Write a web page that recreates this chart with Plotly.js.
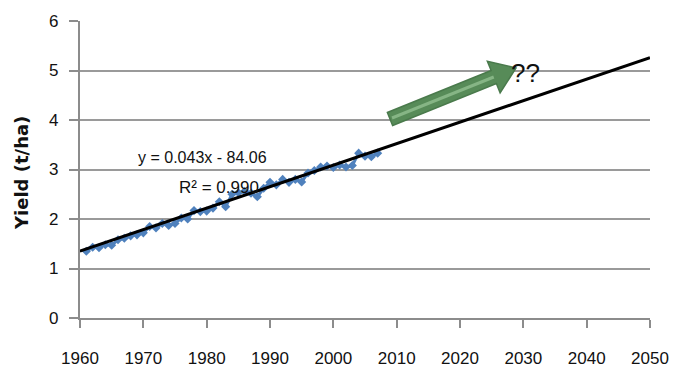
<!DOCTYPE html>
<html>
<head>
<meta charset="utf-8">
<script src="https://cdn.plot.ly/plotly-3.0.1.min.js"></script>
<style>html,body{margin:0;padding:0;background:#fff;}#chart{width:676px;height:374px;}</style>
</head>
<body>
<div id="chart"></div>
<script>
// Observed yields (t/ha)
const years = [1961,1962,1963,1964,1965,1966,1967,1968,1969,1970,1971,1972,1973,1974,1975,1976,1977,1978,1979,1980,1981,1982,1983,1984,1985,1986,1987,1988,1989,1990,1991,1992,1993,1994,1995,1996,1997,1998,1999,2000,2001,2002,2003,2004,2005,2006,2007];
const yields = [1.35,1.43,1.42,1.48,1.47,1.58,1.61,1.66,1.68,1.72,1.85,1.82,1.91,1.87,1.91,2.02,2.00,2.17,2.15,2.16,2.22,2.35,2.25,2.50,2.53,2.56,2.52,2.45,2.62,2.74,2.69,2.80,2.74,2.80,2.75,2.93,2.98,3.05,3.07,3.04,3.09,3.05,3.08,3.33,3.27,3.26,3.33];
// Linear trend line endpoints
const trendYears = [1960, 2050];
const trendValues = [1.35, 5.26];
const xTicks = [1960,1970,1980,1990,2000,2010,2020,2030,2040,2050];
const yTicks = [0,1,2,3,4,5,6];
const eqText = "y = 0.043x - 84.06";
const r2Text = "R\u00b2 = 0.990";
const yTitle = "Yield (t/ha)";

const W = 676, H = 374;
const M = {l: 80, r: 26, t: 21, b: 56};
const xr = [1960, 2050], yr = [0, 6];
const pw = W - M.l - M.r, ph = H - M.t - M.b;
function px2x(px){ return xr[0] + (px - M.l) / pw * (xr[1]-xr[0]); }
function py2y(py){ return yr[0] + (M.t + ph - py) / ph * (yr[1]-yr[0]); }

// Arrow geometry in pixel space (decoration)
const tail = [390, 119], tip = [516, 68];
const dx = tip[0]-tail[0], dy = tip[1]-tail[1];
const L = Math.hypot(dx, dy);
const u = [dx/L, dy/L], n = [-u[1], u[0]];
const sw = 7, hw = 17, hl = 24;
const base = [tip[0]-u[0]*hl, tip[1]-u[1]*hl];
const pts = [
  [tail[0]+n[0]*sw, tail[1]+n[1]*sw],
  [base[0]+n[0]*sw, base[1]+n[1]*sw],
  [base[0]+n[0]*hw, base[1]+n[1]*hw],
  tip,
  [base[0]-n[0]*hw, base[1]-n[1]*hw],
  [base[0]-n[0]*sw, base[1]-n[1]*sw],
  [tail[0]-n[0]*sw, tail[1]-n[1]*sw]
];
const path = 'M' + pts.map(p => px2x(p[0]).toFixed(4) + ',' + py2y(p[1]).toFixed(4)).join(' L') + ' Z';
const stripe = 'M' + px2x(tail[0]+2).toFixed(4) + ',' + py2y(tail[1]-1).toFixed(4) + ' L' + px2x(base[0]).toFixed(4) + ',' + py2y(base[1]).toFixed(4);

const traces = [
  {x: years, y: yields, type: 'scatter', mode: 'lines+markers',
   line: {color: '#4F81BD', width: 3}, marker: {color: '#4F81BD', size: 7, symbol: 'diamond'},
   hoverinfo: 'skip', showlegend: false},
  {x: trendYears, y: trendValues, type: 'scatter', mode: 'lines',
   line: {color: '#000', width: 3}, hoverinfo: 'skip', showlegend: false}
];

const tickFont = {family: 'Liberation Sans, Arial, sans-serif', size: 17, color: '#111'};
const textFont = {family: 'Liberation Sans, Arial, sans-serif', size: 16, color: '#111'};

const yTickLabels = yTicks.map(v => ({
  text: String(v), xref: 'paper', yref: 'y', x: 0, y: v, xanchor: 'right', yanchor: 'middle',
  xshift: -20, showarrow: false, font: tickFont
}));

const layout = {
  width: W, height: H,
  margin: M,
  paper_bgcolor: '#fff', plot_bgcolor: '#fff',
  showlegend: false,
  xaxis: {range: xr, tickvals: xTicks, ticktext: xTicks.map(String), showgrid: false, zeroline: false,
          showline: true, linecolor: '#8c8c8c', linewidth: 2,
          ticks: 'outside', ticklen: 8, tickwidth: 2, tickcolor: '#8c8c8c',
          tickfont: tickFont, ticklabelstandoff: 16, fixedrange: true},
  yaxis: {range: yr, tickvals: yTicks, showticklabels: false,
          showgrid: true, gridcolor: '#9a9a9a', gridwidth: 2, zeroline: false,
          showline: true, linecolor: '#8c8c8c', linewidth: 2,
          ticks: 'outside', ticklen: 9, tickwidth: 2, tickcolor: '#8c8c8c',
          fixedrange: true},
  shapes: [
    {type: 'path', xref: 'x', yref: 'y', path: path, fillcolor: '#578b58', line: {color: '#4a7a4c', width: 1.5}},
    {type: 'path', xref: 'x', yref: 'y', path: stripe, line: {color: '#86b585', width: 3}}
  ],
  annotations: yTickLabels.concat([
    {text: eqText, x: px2x(202), y: py2y(157), xref: 'x', yref: 'y', showarrow: false, font: textFont},
    {text: r2Text, x: px2x(219), y: py2y(187), xref: 'x', yref: 'y', showarrow: false,
     font: {family: 'Liberation Sans, Arial, sans-serif', size: 17, color: '#111'}},
    {text: '??', x: px2x(525), y: py2y(73), xref: 'x', yref: 'y', showarrow: false,
     font: {family: 'Liberation Sans, Arial, sans-serif', size: 26, color: '#111'}},
    {text: '<b>' + yTitle + '</b>', textangle: -90, xref: 'paper', yref: 'paper', x: 0, y: py2y(173)/6,
     xanchor: 'center', yanchor: 'middle', xshift: -59, showarrow: false,
     font: {family: 'DejaVu Sans, sans-serif', size: 18, color: '#111'}}
  ])
};
Plotly.newPlot('chart', traces, layout, {displayModeBar: false, staticPlot: true});
</script>
</body>
</html>
